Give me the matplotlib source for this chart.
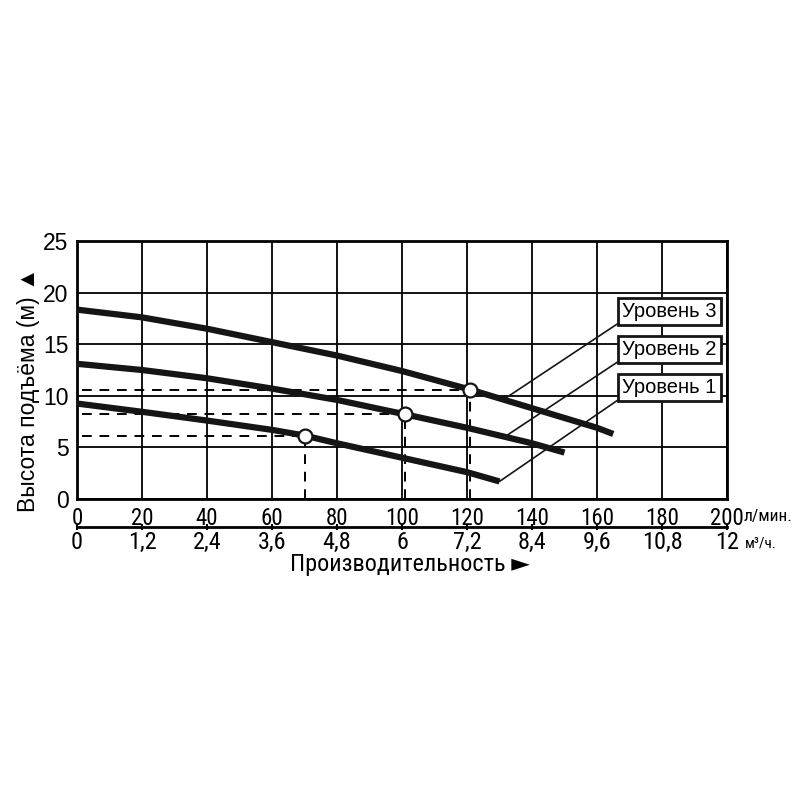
import matplotlib
matplotlib.use("Agg")
import matplotlib.pyplot as plt
from matplotlib.ticker import FixedLocator, FixedFormatter
from matplotlib import font_manager

# ---------------- data ----------------
flow_ticks = [0, 20, 40, 60, 80, 100, 120, 140, 160, 180, 200]
m3h_ticks = [0, 1.2, 2.4, 3.6, 4.8, 6, 7.2, 8.4, 9.6, 10.8, 12]
m3h_labels = ["0", "1,2", "2,4", "3,6", "4,8", "6", "7,2", "8,4", "9,6", "10,8", "12"]
head_ticks = [0, 5, 10, 15, 20, 25]

lvl3_q = [0, 20, 40, 60, 80, 100, 121, 140, 160, 165]
lvl3_h = [18.35, 17.6, 16.5, 15.2, 13.9, 12.4, 10.6, 8.8, 6.9, 6.3]
lvl2_q = [0, 20, 40, 60, 80, 101, 120, 140, 150]
lvl2_h = [13.1, 12.5, 11.7, 10.7, 9.6, 8.2, 6.9, 5.4, 4.5]
lvl1_q = [0, 20, 40, 60, 70, 80, 100, 120, 130]
lvl1_h = [9.25, 8.45, 7.6, 6.7, 6.15, 5.4, 4.0, 2.6, 1.7]

op_q = [70, 101, 121]
op_h = [6.15, 8.2, 10.6]

labels = ["Уровень 1", "Уровень 2", "Уровень 3"]
label_target_q = [130, 131, 132]
label_target_h = [1.7, 5.9, 9.8]
label_pos_q = [182.3, 182.3, 182.3]
label_pos_h = [10.8, 14.5, 18.2]

# ---------------- fonts ----------------
ttf = font_manager.fontManager.ttflist
names = {f.name for f in ttf}


def pick_narrow():
    for n in ["Liberation Sans Narrow", "Arial Narrow", "Roboto Condensed",
              "Open Sans Condensed", "Noto Sans Condensed", "DejaVu Sans Condensed"]:
        if n in names:
            return dict(family=[n, "DejaVu Sans"]), True
    for n in ["Noto Sans", "DejaVu Sans", "Open Sans", "Roboto"]:
        for f in ttf:
            if f.name == n and str(f.stretch) in ("condensed", "semi-condensed", "extra-condensed"):
                return dict(family=[n, "DejaVu Sans"], stretch=str(f.stretch)), True
    for f in ttf:
        if ("Narrow" in f.name or "Condensed" in f.name) and "Mono" not in f.name:
            return dict(family=[f.name, "DejaVu Sans"]), True
    return dict(family=["Liberation Sans", "DejaVu Sans"]), False


NARROW, HAVE_NARROW = pick_narrow()
REG = ["Liberation Sans", "DejaVu Sans"]
plt.rcParams['font.family'] = REG
xt_size = 16.5 if HAVE_NARROW else 14.5

fig = plt.figure(figsize=(8, 8), dpi=100)
ax = fig.add_axes([77 / 800, 1 - 499 / 800, 650 / 800, 258 / 800])

ax.set_xlim(0, 200)
ax.set_ylim(0, 25)
ax.set_xticks(flow_ticks)
ax.set_yticks(head_ticks)
ax.grid(True, color="black", linewidth=1.3)
ax.set_axisbelow(True)
for s in ax.spines.values():
    s.set_linewidth(2.0)
ax.tick_params(axis="both", length=0)
ax.tick_params(axis="x", pad=6)
ax.tick_params(axis="y", pad=6)
for t in ax.get_xticklabels():
    t.set(**NARROW)
    t.set_fontsize(xt_size)
for t in ax.get_yticklabels():
    t.set_family(REG)
    t.set_fontsize(16.5)

dash = dict(color="black", linewidth=1.4, linestyle=(0, (5, 4)), zorder=2)
for q, h in zip(op_q, op_h):
    ax.plot([1.5, q], [h, h], **dash)
    ax.plot([q, q], [0, h], **dash)

for q, h in [(lvl3_q, lvl3_h), (lvl2_q, lvl2_h), (lvl1_q, lvl1_h)]:
    ax.plot(q, h, color="#151515", linewidth=4.5, solid_capstyle="butt", zorder=3)

ax.plot(op_q, op_h, linestyle="none", marker="o", markersize=10,
        markerfacecolor="white", markeredgecolor="#151515", markeredgewidth=1.6, zorder=5)

for lab, tq, th, pq, ph in zip(labels, label_target_q, label_target_h, label_pos_q, label_pos_h):
    ax.annotate(lab, xy=(tq, th), xytext=(pq, ph), textcoords="data",
                ha="center", va="center", fontsize=14.5, family=REG, zorder=6,
                bbox=dict(boxstyle="square,pad=0.2", facecolor="white", edgecolor="#151515", linewidth=2),
                arrowprops=dict(arrowstyle="-", color="#151515", linewidth=1.2,
                                relpos=(0, 0), shrinkA=0, shrinkB=0))

# secondary axis in m3/h
sec = ax.secondary_xaxis(-28 / 258, functions=(lambda x: x * 0.06, lambda x: x / 0.06))
sec.xaxis.set_major_locator(FixedLocator(m3h_ticks))
sec.xaxis.set_major_formatter(FixedFormatter(m3h_labels))
sec.spines["bottom"].set_linewidth(2.0)
sec.tick_params(axis="x", direction="inout", length=4, width=1.5, pad=1)
for t in sec.get_xticklabels():
    t.set(**NARROW)
    t.set_fontsize(xt_size + 1)

fig.text(744 / 800, 1 - 517 / 800, "л/мин.", fontsize=12.5, va="center", ha="left", **NARROW)
fig.text(745 / 800, 1 - 544 / 800, "м³/ч.", fontsize=11, va="center", ha="left", **NARROW)
fig.text(410 / 800, 1 - 565 / 800, "Производительность ►", fontsize=17.5, va="center",
         ha="center", **NARROW)
fig.text(29 / 800, 1 - 390 / 800, "Высота подъёма (м) ▲", fontsize=16.5, family=REG,
         va="center", ha="center", rotation=90)

fig.savefig("out.png", dpi=100, facecolor="white")
